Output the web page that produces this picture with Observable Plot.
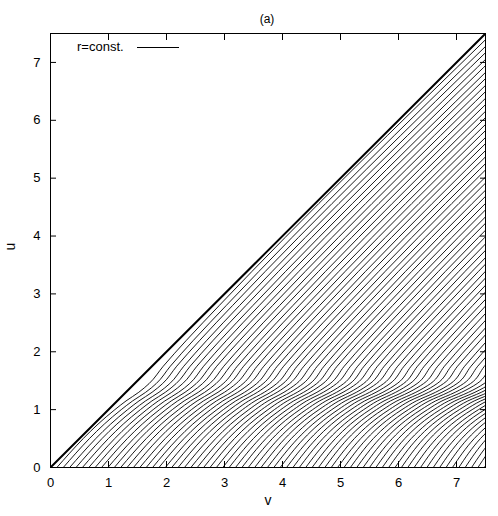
<!DOCTYPE html>
<html><head><meta charset="utf-8">
<script src="https://cdn.jsdelivr.net/npm/d3@7"></script>
<script src="https://cdn.jsdelivr.net/npm/@observablehq/plot@0.6"></script>
<style>
body{margin:0;background:#fff;}
#wrap{position:relative;width:498px;height:516px;font-family:"Liberation Sans",Arial,Helvetica,sans-serif;}
#legend{position:absolute;left:77px;top:38px;height:18px;font-size:13px;line-height:18px;color:#000;white-space:nowrap;}
#legend .sw{position:absolute;left:60px;top:9px;width:42px;border-top:1px solid #000;}
</style></head><body>
<div id="wrap"><div id="legend">r=const.<span class="sw"></span></div></div>
<script>
const xTicks = [0, 1, 2, 3, 4, 5, 6, 7];
const yTicks = [0, 1, 2, 3, 4, 5, 6, 7];
// v where each r=const. line meets u=0
const bottomV = [0.11,0.22,0.33,0.44,0.55,0.66,0.77,0.88,0.99,1.10,1.21,1.32,1.43,1.54,1.65,1.76,1.87,1.98,2.09,2.20,2.31,2.42,2.53,2.64,2.75,2.86,2.97,3.08,3.19,3.30,3.41,3.52,3.63,3.74,3.85,3.96,4.07,4.18,4.29,4.40,4.51,4.62,4.73,4.84,4.95,5.06,5.17,5.28,5.39,5.50,5.61,5.72,5.83,5.94,6.05,6.16,6.27,6.38,6.49,6.60,6.71,6.82,6.93,7.04,7.15,7.26,7.37,7.48];
// size of the bump of each line inside the pulse band (in v)
const bumpV = [0.14,0.15,0.15,0.16,0.16,0.16,0.17,0.17,0.17,0.18,0.18,0.19,0.19,0.19,0.20,0.20,0.21,0.21,0.21,0.22,0.22,0.22,0.23,0.23,0.24,0.24,0.24,0.25,0.25,0.26,0.26,0.26,0.27,0.27,0.27,0.28,0.28,0.29,0.29,0.29,0.30,0.30,0.31,0.31,0.31,0.32,0.32,0.32,0.33,0.33,0.34,0.34,0.34,0.35,0.35,0.36,0.36,0.36,0.37,0.37,0.37,0.38,0.38,0.39,0.39,0.39,0.40,0.40];
// lasting v-shift of each line above the band
const shiftV = [0.00,0.01,0.01,0.02,0.02,0.03,0.03,0.04,0.04,0.05,0.05,0.06,0.06,0.07,0.07,0.08,0.08,0.09,0.09,0.10,0.10,0.11,0.11,0.12,0.12,0.13,0.13,0.14,0.14,0.15,0.15,0.16,0.16,0.17,0.17,0.18,0.18,0.19,0.19,0.20,0.20,0.21,0.21,0.22,0.22,0.23,0.23,0.24,0.24,0.25,0.25,0.26,0.26,0.27,0.27,0.28,0.28,0.29,0.29,0.30,0.30,0.31,0.31,0.32,0.32,0.33,0.33,0.34];
// u levels along each line, with the share of bump and of shift reached there
const bandU = [0, 1.0, 1.15, 1.3, 1.45, 1.75, 2.2, 2.8, 7.5];
const bumpFrac = [0, 0, 0.3, 0.8, 1, 0.6, 0.25, 0, 0];
const shiftFrac = [0, 0, 0, 0.1, 0.3, 0.6, 0.85, 1, 1];
const diagV = [0, 7.5];
const diagU = [0, 7.5];

const rows = [];
bottomV.forEach((v0, k) => {
  bandU.forEach((u, i) => rows.push({
    line: k, u,
    v: v0 + u + bumpV[k] * bumpFrac[i] + shiftV[k] * shiftFrac[i]
  }));
});
const diag = diagV.map((v, i) => ({v, u: diagU[i]}));

const font = '"Liberation Sans",Arial,Helvetica,sans-serif';
const chart = Plot.plot({
  width: 498, height: 516,
  marginTop: 33, marginLeft: 50, marginRight: 13, marginBottom: 49,
  x: {domain: [0, 7.5]},
  y: {domain: [0, 7.5]},
  style: {fontFamily: font, fontSize: "13px", color: "#000", background: "#fff"},
  marks: [
    Plot.line(rows, {x: "v", y: "u", z: "line", stroke: "#000", strokeWidth: 0.9, curve: "monotone-y", clip: true}),
    Plot.line(diag, {x: "v", y: "u", stroke: "#000", strokeWidth: 2, clip: true}),
    Plot.frame({stroke: "#000", strokeWidth: 1}),
    Plot.axisX(xTicks, {anchor: "bottom", tickSize: -6, fill: "none", label: null}),
    Plot.axisX(xTicks, {anchor: "top", tickSize: -6, fill: "none", label: null}),
    Plot.axisY(yTicks, {anchor: "left", tickSize: -6, fill: "none", label: null}),
    Plot.axisY(yTicks, {anchor: "right", tickSize: -6, fill: "none", label: null}),
    Plot.axisX(xTicks, {anchor: "bottom", tickSize: 0, tickPadding: 10, tickFormat: "d", label: null, fontSize: 13}),
    Plot.axisY(yTicks, {anchor: "left", tickSize: 0, tickPadding: 10, tickFormat: "d", label: null, fontSize: 13}),
    Plot.text(["v"], {frameAnchor: "bottom", dy: 37, fontSize: 14}),
    Plot.text(["u"], {frameAnchor: "left", dx: -40, rotate: -90, fontSize: 14}),
    Plot.text(["(a)"], {frameAnchor: "top", dy: -19, dx: -1, fontSize: 12})
  ]
});
document.getElementById("wrap").prepend(chart);
</script>
</body></html>
